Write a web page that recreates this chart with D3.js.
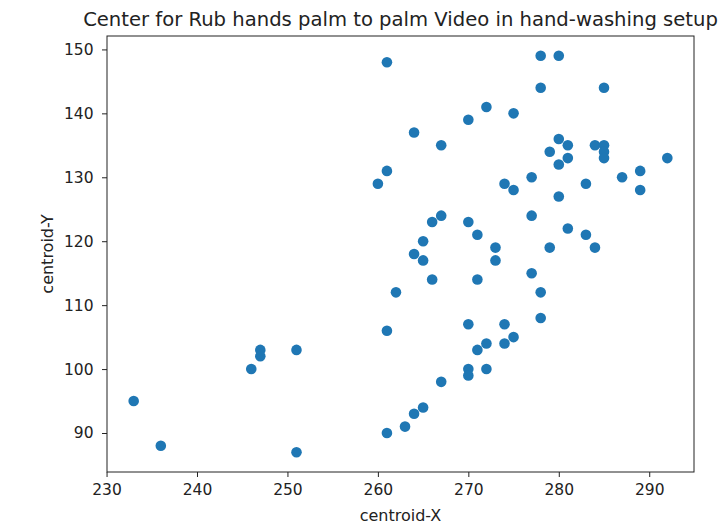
<!DOCTYPE html>
<html>
<head>
<meta charset="utf-8">
<script src="https://cdn.jsdelivr.net/npm/d3@7"></script>
<style>
  body { margin: 0; background: #fff; }
  svg { font-family: "DejaVu Sans", sans-serif; }
</style>
</head>
<body>
<div id="chart"></div>
<script>
// centroid positions
const xs = [261, 261, 260, 278, 280, 278, 285, 272, 270, 275, 264, 267, 280, 281, 279, 281, 280, 284, 285, 285, 285, 292,
  274, 275, 277, 283, 287, 289, 289, 280, 267, 266, 270, 277, 271, 281, 283, 265, 264, 265, 273, 273, 279, 284,
  266, 271, 277, 262, 278, 278, 261, 270, 274, 275, 272, 274, 271, 270, 270, 272, 267, 265, 264, 263, 261,
  247, 247, 246, 251, 233, 236, 251]
const ys = [148, 131, 129, 149, 149, 144, 144, 141, 139, 140, 137, 135, 136, 135, 134, 133, 132, 135, 135, 134, 133, 133,
  129, 128, 130, 129, 130, 131, 128, 127, 124, 123, 123, 124, 121, 122, 121, 120, 118, 117, 119, 117, 119, 119,
  114, 114, 115, 112, 112, 108, 106, 107, 107, 105, 104, 104, 103, 100, 99, 100, 98, 94, 93, 91, 90,
  103, 102, 100, 103, 95, 88, 87]
const xTicks = [230, 240, 250, 260, 270, 280, 290]
const yTicks = [90, 100, 110, 120, 130, 140, 150]
const title = "Center for Rub hands palm to palm Video in hand-washing setup"

const width = 720, height = 527
const margin = { top: 36, right: 26, bottom: 55, left: 107 }

const svg = d3.select("#chart").append("svg")
  .attr("width", width).attr("height", height)

// matplotlib style 5% padding
const xMin = d3.min(xs), xMax = d3.max(xs)
const yMin = d3.min(ys), yMax = d3.max(ys)
const xPad = (xMax - xMin) * 0.05, yPad = (yMax - yMin) * 0.05

const x = d3.scaleLinear().domain([xMin - xPad, xMax + xPad]).range([margin.left, width - margin.right])
const y = d3.scaleLinear().domain([yMin - yPad, yMax + yPad]).range([height - margin.bottom, margin.top])

const xAxis = svg.append("g")
  .attr("transform", `translate(0,${height - margin.bottom})`)
  .call(d3.axisBottom(x).tickValues(xTicks).tickSize(5).tickPadding(7))
const yAxis = svg.append("g")
  .attr("transform", `translate(${margin.left},0)`)
  .call(d3.axisLeft(y).tickValues(yTicks).tickSize(5).tickPadding(8.5))

for (const ax of [xAxis, yAxis]) {
  ax.selectAll("text").attr("font-size", 15.5).attr("fill", "#222").attr("font-family", "DejaVu Sans")
  ax.selectAll("line").attr("stroke", "#222")
  ax.select(".domain").remove()
}

// frame
svg.append("rect")
  .attr("x", margin.left).attr("y", margin.top)
  .attr("width", width - margin.left - margin.right)
  .attr("height", height - margin.top - margin.bottom)
  .attr("fill", "none").attr("stroke", "#222").attr("stroke-width", 1)

svg.append("g").selectAll("circle")
  .data(xs.map((d, i) => [d, ys[i]]))
  .enter().append("circle")
  .attr("cx", (d) => x(d[0]))
  .attr("cy", (d) => y(d[1]))
  .attr("r", 5.3)
  .attr("fill", "#1f77b4")

svg.append("text")
  .attr("x", (margin.left + width - margin.right) / 2)
  .attr("y", 26)
  .attr("text-anchor", "middle")
  .attr("font-size", 19.6)
  .attr("fill", "#222")
  .text(title)

svg.append("text")
  .attr("x", (margin.left + width - margin.right) / 2)
  .attr("y", 521)
  .attr("text-anchor", "middle")
  .attr("font-size", 16)
  .attr("fill", "#222")
  .text("centroid-X")

svg.append("text")
  .attr("transform", `translate(53,${(margin.top + height - margin.bottom) / 2}) rotate(-90)`)
  .attr("text-anchor", "middle")
  .attr("font-size", 16)
  .attr("fill", "#222")
  .text("centroid-Y")
</script>
</body>
</html>
